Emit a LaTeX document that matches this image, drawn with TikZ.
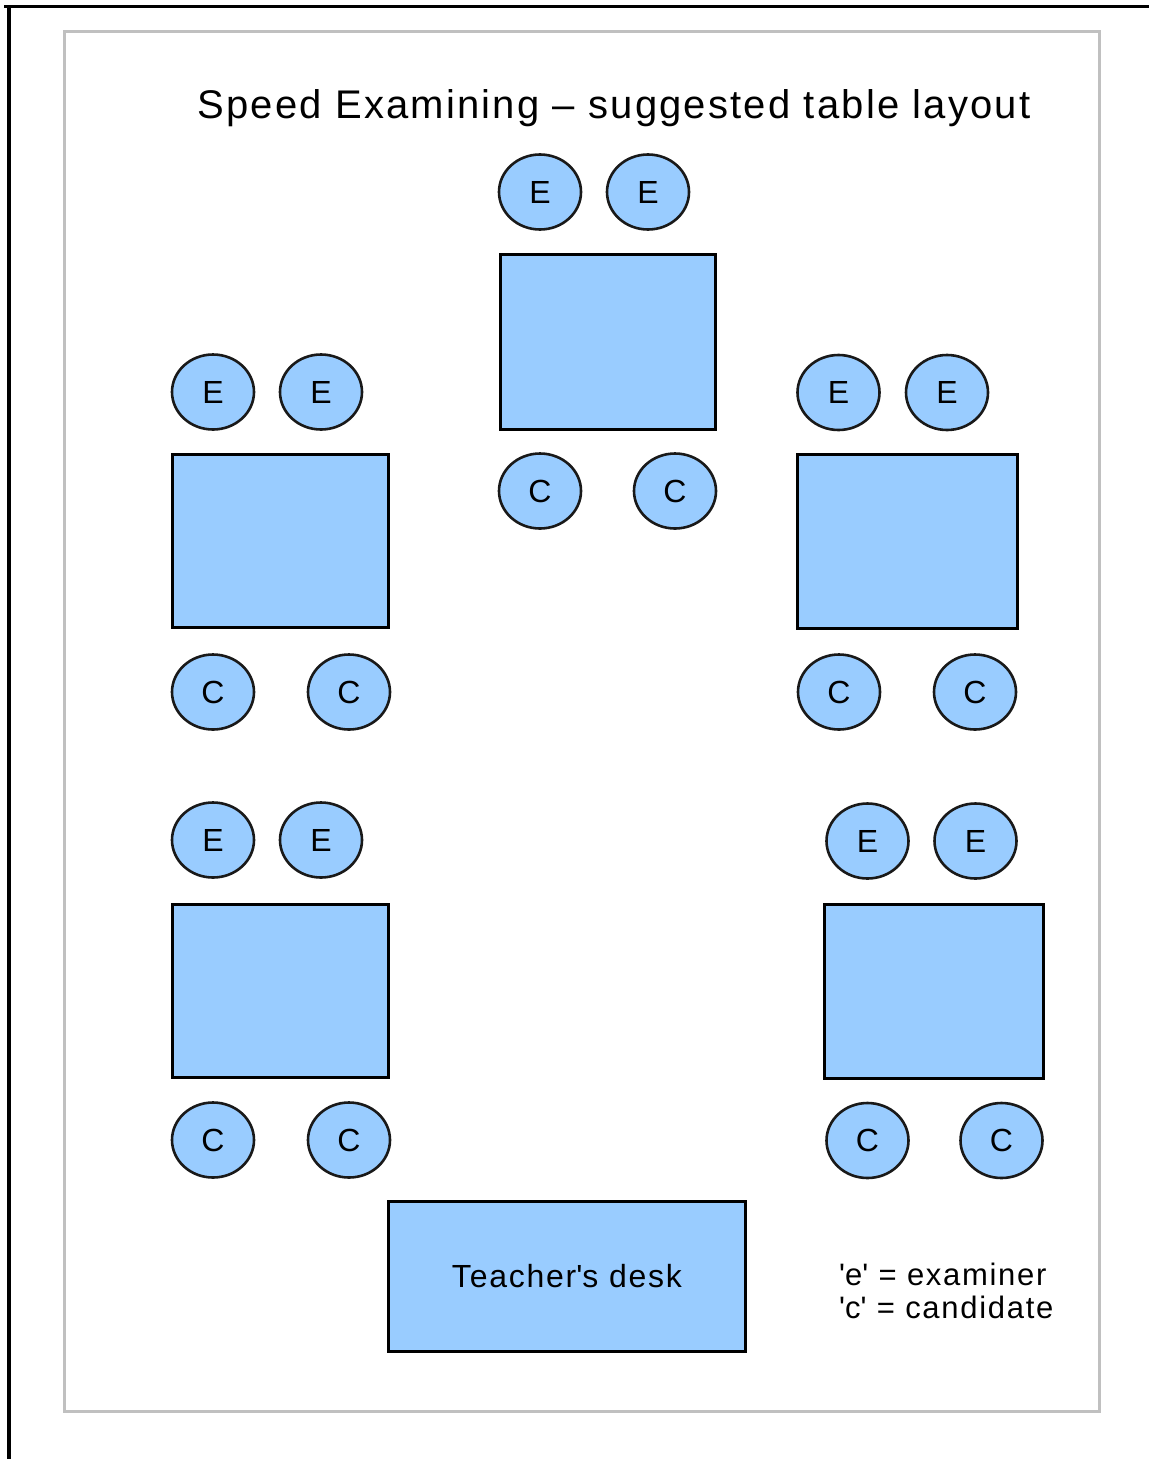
\documentclass[tikz,border=0pt]{standalone}
\usepackage{fontspec}
\setmainfont{Liberation Sans}[LetterSpace=5.5]
\usetikzlibrary{shapes.geometric}
\definecolor{tableblue}{HTML}{99CCFF}
\definecolor{framegray}{HTML}{C0C0C0}
\begin{document}
\begin{tikzpicture}[x=1pt,y=-1pt,
  tablebox/.style={draw=black,line width=3pt,fill=tableblue,inner sep=0pt},
  seat/.style={ellipse,draw=black!90,line width=2.6pt,fill=tableblue,minimum width=82pt,minimum height=75pt,inner sep=0pt,font=\fontsize{32}{36}\selectfont},
  legend/.style={anchor=base west,inner sep=0pt,font=\fontsize{31}{34}\selectfont}]
\path[use as bounding box] (0,0) rectangle (1149,1459);
\draw[line width=3pt] (4,6)--(1149,6);
\draw[line width=4pt] (9,5)--(9,1459);
\draw[framegray,line width=3pt] (64.5,31.5) rectangle (1099.5,1411.5);
\node[anchor=base,inner sep=0pt,font=\fontsize{40}{48}\selectfont] (title) at (614,118) {Speed Examining – suggested table layout};
\node[tablebox,minimum width=215pt,minimum height=175pt] (tabTop) at (608,342) {};
\node[seat] (eTopA) at (540,192) {E};
\node[seat] (eTopB) at (648,192) {E};
\node[seat] (cTopA) at (540,491) {C};
\node[seat] (cTopB) at (675,491) {C};
\node[tablebox,minimum width=216pt,minimum height=173pt] (tabNW) at (280.5,541) {};
\node[seat] (eNWA) at (213,392) {E};
\node[seat] (eNWB) at (321,392) {E};
\node[seat] (cNWA) at (213,692) {C};
\node[seat] (cNWB) at (349,692) {C};
\node[tablebox,minimum width=220pt,minimum height=174pt] (tabNE) at (907.5,541.5) {};
\node[seat] (eNEA) at (838.5,392.5) {E};
\node[seat] (eNEB) at (947,392.5) {E};
\node[seat] (cNEA) at (839,692) {C};
\node[seat] (cNEB) at (975,692) {C};
\node[tablebox,minimum width=216pt,minimum height=173pt] (tabSW) at (280.5,991) {};
\node[seat] (eSWA) at (213,840) {E};
\node[seat] (eSWB) at (321,840) {E};
\node[seat] (cSWA) at (213,1140) {C};
\node[seat] (cSWB) at (349,1140) {C};
\node[tablebox,minimum width=219pt,minimum height=174pt] (tabSE) at (934,991.5) {};
\node[seat] (eSEA) at (867.5,841) {E};
\node[seat] (eSEB) at (975.5,841) {E};
\node[seat] (cSEA) at (867.5,1140.5) {C};
\node[seat] (cSEB) at (1001.5,1140.5) {C};
\node[tablebox,minimum width=357pt,minimum height=150pt,font=\fontsize{32}{36}\selectfont] (desk) at (567,1276.5) {Teacher\textquotesingle s desk};
\node[legend] (legE) at (839,1285) {\textquotesingle e\textquotesingle{} = examiner};
\node[legend] (legC) at (839,1318) {\textquotesingle c\textquotesingle{} = candidate};
\end{tikzpicture}
\end{document}
